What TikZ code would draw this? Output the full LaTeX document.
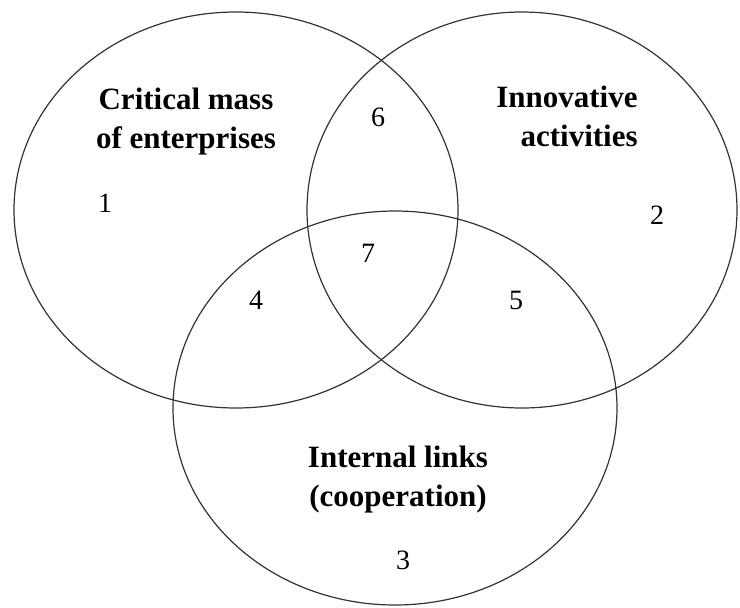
\documentclass[tikz,border=0pt]{standalone}
\usepackage{fontspec}
\setmainfont{Liberation Serif}
\begin{document}
\begin{tikzpicture}[x=0.5pt, y=-0.5pt, line width=0.6pt,
	ring/.style={draw=black!80},
	title/.style={font=\fontsize{15.5}{19.5}\selectfont\bfseries, align=center, inner sep=0pt},
	num/.style={font=\fontsize{14}{16}\selectfont, inner sep=0pt}]
	\useasboundingbox (0,0) rectangle (740,607);

	% the three sets
	\draw[ring] (236,210) ellipse [x radius=222, y radius=198];
	\draw[ring] (522,210) ellipse [x radius=215, y radius=198];
	\draw[ring] (395,408) ellipse [x radius=222, y radius=197];

	% set names
	\node[title] (mass) at (186,122) {Critical mass\\of enterprises};
	\node[title, align=right] (innov) at (567,116) {Innovative\\activities};
	\node[title] (links) at (398,480) {Internal links\\(cooperation)};

	% region numbers
	\node[num] (r1) at (105,203) {1};
	\node[num] (r2) at (657,215) {2};
	\node[num] (r3) at (403,560) {3};
	\node[num] (r4) at (256,300) {4};
	\node[num] (r5) at (516,300) {5};
	\node[num] (r6) at (378,117) {6};
	\node[num] (r7) at (368,253) {7};
\end{tikzpicture}
\end{document}
